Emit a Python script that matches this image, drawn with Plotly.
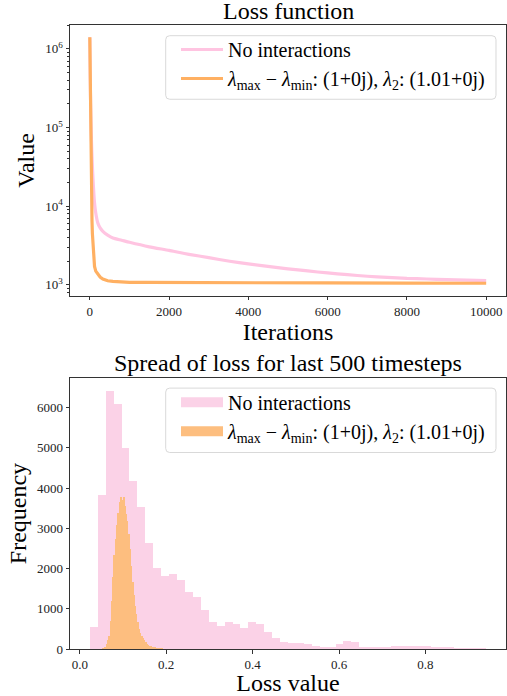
import numpy as np
import plotly.graph_objects as go

# ---------------- data: loss curves ----------------
pink_iter = [0, 5, 10, 20, 35, 50, 70, 90, 119, 150, 203, 260, 329, 450, 582, 800,
             1003, 1500, 2000, 2267, 2500, 3000, 3530, 4000, 4794, 5000, 5500, 6000,
             6500, 7000, 7500, 8000, 8500, 9000, 9500, 10000]
pink_loss = [1.40e6, 8.0e5, 4.5e5, 2.0e5, 9.0e4, 5.0e4, 2.8e4, 1.8e4, 1.1e4, 8.2e3,
             6.1e3, 5.3e3, 4.8e3, 4.3e3, 3.95e3, 3.7e3, 3.48e3, 3.05e3, 2.75e3, 2.58e3,
             2.45e3, 2.22e3, 2.0e3, 1.85e3, 1.65e3, 1.60e3, 1.505e3, 1.42e3, 1.35e3,
             1.29e3, 1.25e3, 1.21e3, 1.19e3, 1.165e3, 1.15e3, 1.135e3]

orange_iter = [0, 3, 6, 10, 15, 20, 28, 36, 45, 55, 65, 76, 90, 105, 119, 150, 203,
               260, 329, 450, 582, 800, 1000, 1425, 2000, 4000, 6000, 8000, 10000]
orange_loss = [1.40e6, 9.0e5, 5.0e5, 2.5e5, 1.2e5, 6.5e4, 3.5e4, 2.0e4, 1.1e4, 6.5e3,
               4.5e3, 3.4e3, 2.5e3, 2.0e3, 1.72e3, 1.5e3, 1.35e3, 1.26e3, 1.19e3,
               1.13e3, 1.11e3, 1.09e3, 1.08e3, 1.075e3, 1.07e3, 1.065e3, 1.06e3,
               1.055e3, 1.05e3]

# ---------------- data: histograms ----------------
pink_bin_start = 0.02314
pink_bin_width = 0.01835
pink_counts = [546, 3833, 6414, 6091, 4991, 4162, 3517, 2632, 2011, 1820,
               1862, 1713, 1423, 1299, 976, 670, 561, 670, 628, 529,
               670, 611, 422, 281, 181, 156, 156, 132, 66, 40,
               32, 132, 206, 165, 40, 25, 25, 50, 82, 66,
               66, 66, 82, 58, 50, 30, 8, 4, 2, 1]

orange_bin_start = 0.052
orange_bin_width = 0.003
orange_counts = [5, 20, 50, 120, 230, 330, 700, 1200, 1780, 2330,
                 2740, 3070, 3370, 3660, 3780, 3700, 3770, 3560, 3350, 3180,
                 2850, 2480, 2060, 1660, 1330, 1060, 860, 670, 500, 400,
                 320, 270, 220, 170, 130, 100, 80, 60, 45, 35,
                 25, 18, 12, 8, 5, 3, 2]

label_a = "No interactions"
label_b = "<i>λ</i><sub>max</sub> − <i>λ</i><sub>min</sub>: (1+0j), <i>λ</i><sub>2</sub>: (1.01+0j)"

x_ticks_top = [0, 2000, 4000, 6000, 8000, 10000]
y_ticks_top = [1e3, 1e4, 1e5, 1e6]
y_ticktext_top = ["10<sup>3</sup>", "10<sup>4</sup>", "10<sup>5</sup>", "10<sup>6</sup>"]
x_ticks_bot = [0.0, 0.2, 0.4, 0.6, 0.8]
y_ticks_bot = [0, 1000, 2000, 3000, 4000, 5000, 6000]

# ---------------- styles ----------------
PINK_LINE = "#FFC4E1"
ORANGE_LINE = "#FFB062"
PINK_BAR = "#FBD2E7"
ORANGE_BAR = "#FDBE7F"
FONT = "Liberation Serif"
W, H = 507, 696
ML, MR, MT, MB = 70, 1, 25, 46.7          # plot area: x 70..506, y 25..649.3
PW, PH = W - ML - MR, H - MT - MB

pink_centers = pink_bin_start + pink_bin_width * (np.arange(len(pink_counts)) + 0.5)
orange_centers = orange_bin_start + orange_bin_width * (np.arange(len(orange_counts)) + 0.5)

fig = go.Figure()

fig.add_trace(go.Scatter(x=pink_iter, y=pink_loss, mode="lines", name=label_a,
                         line=dict(color=PINK_LINE, width=3.2, shape="spline", smoothing=0.6),
                         legend="legend", xaxis="x", yaxis="y"))
fig.add_trace(go.Scatter(x=orange_iter, y=orange_loss, mode="lines", name=label_b,
                         line=dict(color=ORANGE_LINE, width=3.2), legend="legend",
                         xaxis="x", yaxis="y"))

fig.add_trace(go.Bar(x=pink_centers, y=pink_counts, width=pink_bin_width,
                     marker=dict(color=PINK_BAR, line=dict(width=0)), name=label_a,
                     showlegend=False, xaxis="x2", yaxis="y2"))
fig.add_trace(go.Bar(x=orange_centers, y=orange_counts, width=orange_bin_width,
                     marker=dict(color=ORANGE_BAR, line=dict(width=0)), name=label_b,
                     showlegend=False, xaxis="x2", yaxis="y2"))
# legend-only entries for the histogram (wide patch look)
fig.add_trace(go.Scatter(x=[None], y=[None], mode="lines", name=label_a,
                         line=dict(color=PINK_BAR, width=14), legend="legend2",
                         xaxis="x2", yaxis="y2"))
fig.add_trace(go.Scatter(x=[None], y=[None], mode="lines", name=label_b,
                         line=dict(color=ORANGE_BAR, width=14), legend="legend2",
                         xaxis="x2", yaxis="y2"))

def px_x(p):
    return (p - ML) / PW

def px_y(p):
    return (H - MB - p) / PH

axis_common = dict(showline=True, linecolor="#333333", linewidth=1, mirror=True,
                   ticks="outside", ticklen=3.5, tickwidth=0.8, tickcolor="#333333",
                   showgrid=False, zeroline=False, automargin=True,
                   tickfont=dict(family=FONT, size=13, color="#222222"))

minor_vals = [m * 10 ** e for e in range(2, 7) for m in range(2, 10)]

fig.update_layout(
    width=W, height=H,
    margin=dict(l=ML, r=MR, t=MT, b=MB, autoexpand=False),
    paper_bgcolor="white", plot_bgcolor="white",
    font=dict(family=FONT, color="black"),
    barmode="overlay", bargap=0,
    xaxis=dict(domain=[0, 1], anchor="y", range=[-500, 10500],
               tickvals=x_ticks_top, ticktext=[str(v) for v in x_ticks_top],
               title=dict(text="Iterations", font=dict(family=FONT, size=24), standoff=0),
               **axis_common),
    yaxis=dict(domain=[px_y(296), 1], anchor="x", type="log",
               range=[2.861, 6.303], tickvals=y_ticks_top, ticktext=y_ticktext_top,
               minor=dict(tickmode="array", tickvals=minor_vals, ticks="outside",
                          ticklen=2, tickwidth=0.6, tickcolor="#333333", showgrid=False),
               title=dict(text="Value", font=dict(family=FONT, size=24), standoff=3),
               **axis_common),
    xaxis2=dict(domain=[0, 1], anchor="y2", range=[-0.0227, 0.9865],
                tickvals=x_ticks_bot, ticktext=[f"{v:.1f}" for v in x_ticks_bot],
                title=dict(text="Loss value", font=dict(family=FONT, size=24), standoff=0),
                **axis_common),
    yaxis2=dict(domain=[0, px_y(378.3)], anchor="x2",
                range=[0, max(pink_counts) * 1.05], tickvals=y_ticks_bot,
                ticktext=[str(v) for v in y_ticks_bot],
                title=dict(text="Frequency", font=dict(family=FONT, size=24), standoff=3),
                **axis_common),
    legend=dict(x=px_x(176), y=px_y(30), xanchor="left", yanchor="top",
                bgcolor="rgba(0,0,0,0)", borderwidth=0, itemwidth=42,
                font=dict(family=FONT, size=20), tracegroupgap=5,
                traceorder="normal"),
    legend2=dict(x=px_x(176), y=px_y(383), xanchor="left", yanchor="top",
                 bgcolor="rgba(0,0,0,0)", borderwidth=0, itemwidth=42,
                 font=dict(family=FONT, size=20), tracegroupgap=5,
                 traceorder="normal"),
    annotations=[
        dict(text="Loss function", xref="paper", yref="paper",
             x=0.5, y=1, xanchor="center", yanchor="bottom", yshift=-1,
             showarrow=False, font=dict(family=FONT, size=24)),
        dict(text="Spread of loss for last 500 timesteps", xref="paper", yref="paper",
             x=0.5, y=px_y(378.3), xanchor="center", yanchor="bottom",
             showarrow=False, font=dict(family=FONT, size=24)),
    ],
)

def rounded_box(x0, y0, x1, y1, r=4):
    # pixel coords -> paper coords path with rounded corners
    X = lambda p: f"{px_x(p):.5f}"
    Y = lambda p: f"{px_y(p):.5f}"
    return (f"M {X(x0 + r)} {Y(y0)} L {X(x1 - r)} {Y(y0)} Q {X(x1)} {Y(y0)} {X(x1)} {Y(y0 + r)} "
            f"L {X(x1)} {Y(y1 - r)} Q {X(x1)} {Y(y1)} {X(x1 - r)} {Y(y1)} "
            f"L {X(x0 + r)} {Y(y1)} Q {X(x0)} {Y(y1)} {X(x0)} {Y(y1 - r)} "
            f"L {X(x0)} {Y(y0 + r)} Q {X(x0)} {Y(y0)} {X(x0 + r)} {Y(y0)} Z")

fig.update_layout(shapes=[
    dict(type="path", xref="paper", yref="paper", path=rounded_box(165.7, 35.7, 496, 99.3),
         line=dict(color="#D9D9D9", width=1), fillcolor="rgba(255,255,255,0.8)", layer="above"),
    dict(type="path", xref="paper", yref="paper", path=rounded_box(165.7, 388.3, 496, 452.7),
         line=dict(color="#D9D9D9", width=1), fillcolor="rgba(255,255,255,0.8)", layer="above"),
])

fig.write_html("out.html", config={"displayModeBar": False},
               post_script="document.body.style.margin='0';document.body.style.padding='0';")
